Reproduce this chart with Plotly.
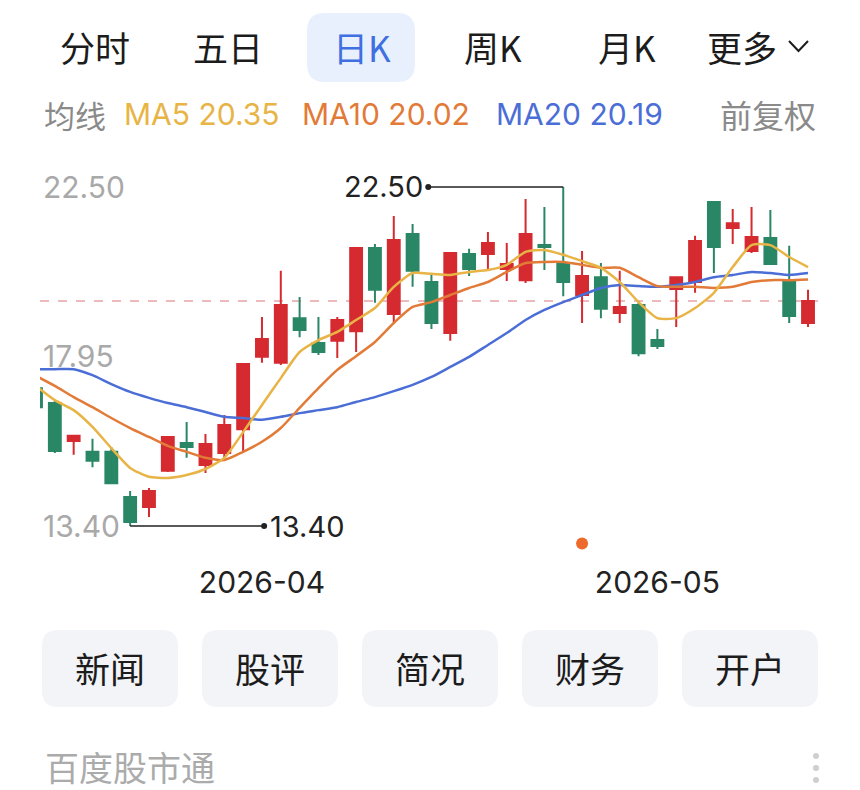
import plotly.graph_objects as go
import numpy as np

W, H = 860, 790

# ---------------- data ----------------
dates = ["2026-03-16", "2026-03-17", "2026-03-18", "2026-03-19", "2026-03-20",
         "2026-03-23", "2026-03-24", "2026-03-25", "2026-03-26", "2026-03-27",
         "2026-03-30", "2026-03-31", "2026-04-01", "2026-04-02", "2026-04-03",
         "2026-04-07", "2026-04-08", "2026-04-09", "2026-04-10", "2026-04-13",
         "2026-04-14", "2026-04-15", "2026-04-16", "2026-04-17", "2026-04-20",
         "2026-04-21", "2026-04-22", "2026-04-23", "2026-04-24", "2026-04-27",
         "2026-04-28", "2026-04-29", "2026-04-30", "2026-05-06", "2026-05-07",
         "2026-05-08", "2026-05-11", "2026-05-12", "2026-05-13", "2026-05-14",
         "2026-05-15", "2026-05-18"]
opens = [17.10, 16.70, 15.68, 15.39, 15.39, 14.18, 13.91, 14.88, 15.63, 15.04,
         15.36, 16.00, 17.94, 17.78, 18.98, 18.31, 18.37, 18.63, 20.86, 19.09,
         21.24, 19.95, 18.58, 20.70, 20.70, 20.30, 20.00, 20.94, 20.46, 19.60,
         20.08, 19.12, 19.33, 18.39, 19.76, 19.95, 22.10, 21.40, 20.78, 21.13,
         19.98, 18.85]
highs = [17.15, 16.76, 15.82, 15.74, 15.52, 14.34, 14.42, 15.80, 16.19, 15.87,
         16.38, 17.75, 19.01, 20.25, 19.55, 19.01, 19.01, 20.86, 20.97, 21.72,
         21.51, 20.17, 20.73, 20.84, 21.29, 21.00, 22.18, 21.96, 22.50, 20.78,
         20.46, 20.25, 19.44, 18.69, 20.08, 21.19, 22.10, 21.91, 21.96, 21.88,
         20.92, 19.74]
lows = [16.55, 15.36, 15.31, 14.98, 14.53, 13.40, 13.64, 14.85, 15.23, 14.82,
        15.15, 15.39, 17.78, 17.72, 18.47, 17.99, 17.91, 18.07, 19.39, 18.85,
        19.82, 18.69, 18.37, 20.11, 20.25, 19.98, 19.92, 20.27, 19.57, 18.85,
        18.98, 18.85, 17.96, 18.15, 18.74, 19.66, 20.19, 20.97, 20.73, 20.43,
        18.85, 18.74]
closes = [16.59, 15.41, 15.82, 15.15, 14.55, 13.51, 14.34, 15.79, 15.52, 15.60,
          16.11, 17.75, 18.42, 19.33, 18.66, 18.07, 18.93, 20.86, 19.74, 21.08,
          20.25, 18.85, 20.73, 20.30, 21.00, 20.43, 21.24, 20.89, 19.95, 20.11,
          19.23, 19.28, 18.04, 18.23, 20.08, 21.05, 20.89, 21.53, 21.16, 20.43,
          19.04, 19.44]
ma5 = [17.16, 16.78, 16.51, 16.06, 15.49, 14.96, 14.72, 14.69, 14.77, 14.93,
       15.23, 15.92, 16.65, 17.37, 18.07, 18.39, 18.61, 18.93, 19.25, 19.82,
       20.19, 20.17, 20.14, 20.22, 20.27, 20.41, 20.76, 20.81, 20.68, 20.51,
       20.33, 19.95, 19.41, 18.98, 18.98, 19.25, 19.66, 20.35, 20.94, 20.94,
       20.62, 20.35]
ma10 = [17.43, 17.16, 16.86, 16.59, 16.30, 16.03, 15.79, 15.55, 15.39, 15.23,
        15.17, 15.39, 15.66, 16.03, 16.57, 17.10, 17.59, 17.96, 18.34, 18.85,
        19.28, 19.41, 19.60, 19.79, 19.95, 20.22, 20.46, 20.49, 20.49, 20.41,
        20.33, 20.33, 20.08, 19.84, 19.82, 19.82, 19.79, 19.82, 19.95, 20.00,
        20.00, 20.02]
ma20 = [17.61, 17.61, 17.61, 17.45, 17.21, 17.00, 16.84, 16.70, 16.59, 16.46,
        16.33, 16.30, 16.25, 16.33, 16.43, 16.51, 16.59, 16.73, 16.86, 17.02,
        17.19, 17.40, 17.67, 17.94, 18.26, 18.58, 18.93, 19.20, 19.41, 19.60,
        19.79, 19.87, 19.84, 19.82, 19.87, 19.95, 20.08, 20.14, 20.22, 20.19,
        20.14, 20.19]
event_dates = ["2026-04-27"]
month_ticks = ["2026-04-01", "2026-05-06"]
month_labels = ["2026-04", "2026-05"]
tabs = ["分时", "五日", "日K", "周K", "月K", "更多"]
buttons = ["新闻", "股评", "简况", "财务", "开户"]
footer = "百度股市通"

# ---------------- style ----------------
RED = "#d52a2f"
GREEN = "#2a8766"
C5 = "#e8b446"
C10 = "#e27a38"
C20 = "#4b6ed6"
FONT = "Inter, 'Noto Sans CJK SC', sans-serif"
CJK = "'Noto Sans CJK SC', Inter, sans-serif"


def px(x):
    return x / W


def py(y):
    return 1 - y / H


def rrect(x0, y0, x1, y1, r):
    def p(x, y):
        return f"{px(x):.5f},{py(y):.5f}"
    return (f"M {p(x0 + r, y0)} L {p(x1 - r, y0)} Q {p(x1, y0)} {p(x1, y0 + r)} "
            f"L {p(x1, y1 - r)} Q {p(x1, y1)} {p(x1 - r, y1)} L {p(x0 + r, y1)} "
            f"Q {p(x0, y1)} {p(x0, y1 - r)} L {p(x0, y0 + r)} Q {p(x0, y0)} {p(x0 + r, y0)} Z")


# plot area in pixels
PL, PR, PT, PB = 40, 818, 145, 548
slot = 18.83
lo, hi = min(lows), max(highs)
scale = (526 - 187) / (hi - lo)
ytop = hi + (187 - PT) / scale
ybot = lo - (PB - 526) / scale
x0_idx = (PL - 36) / slot
x1_idx = (PR - 36) / slot

fig = go.Figure()
fig.add_trace(go.Candlestick(
    x=dates, open=opens, high=highs, low=lows, close=closes,
    increasing=dict(line=dict(color=RED, width=2), fillcolor=RED),
    decreasing=dict(line=dict(color=GREEN, width=2), fillcolor=GREEN),
    whiskerwidth=0, showlegend=False, hoverinfo="skip"))
for ma, col in [(ma20, C20), (ma10, C10), (ma5, C5)]:
    fig.add_trace(go.Scatter(x=dates, y=ma, mode="lines",
                             line=dict(color=col, width=2.5, shape="spline", smoothing=0.6),
                             showlegend=False, hoverinfo="skip"))
fig.add_trace(go.Scatter(x=event_dates, y=[ybot + 0.12] * len(event_dates), mode="markers",
                         marker=dict(color="#ee6a2c", size=12), cliponaxis=False,
                         showlegend=False, hoverinfo="skip"))

shapes = []
annotations = []

# last price dashed line
shapes.append(dict(type="line", xref="paper", yref="y", x0=px(PL), x1=px(PR),
                   y0=closes[-1], y1=closes[-1], layer="below",
                   line=dict(color="#e6a4a6", width=1.6, dash="dash")))

# max / min markers
imax = int(np.argmax(highs))
imin = int(np.argmin(lows))
mx_end = imax - 135 / slot
mn_end = imin + 134 / slot
shapes.append(dict(type="line", xref="x", yref="y", x0=imax, x1=mx_end, y0=hi, y1=hi,
                   line=dict(color="#222", width=1.6)))
shapes.append(dict(type="line", xref="x", yref="y", x0=imin, x1=mn_end, y0=lo, y1=lo,
                   line=dict(color="#222", width=1.6)))
fig.add_trace(go.Scatter(x=[mx_end, mn_end], y=[hi, lo], mode="markers", xaxis="x2", yaxis="y",
                         marker=dict(color="#222", size=6), showlegend=False, hoverinfo="skip",
                         cliponaxis=False))
annotations.append(dict(x=mx_end - 0.15, y=hi, xref="x", yref="y", text=f"{hi:.2f}",
                        showarrow=False, xanchor="right", yanchor="middle",
                        font=dict(family=FONT, size=29, color="#222")))
annotations.append(dict(x=mn_end + 0.2, y=lo, xref="x", yref="y", text=f"{lo:.2f}",
                        showarrow=False, xanchor="left", yanchor="middle",
                        font=dict(family=FONT, size=29, color="#222")))

# tabs
shapes.append(dict(type="path", xref="paper", yref="paper", path=rrect(307, 13, 415, 82, 18),
                   fillcolor="#e8f0fd", line=dict(width=0), layer="below"))
tab_x = [95, 228, 362, 493, 627, 742]
for t, x in zip(tabs, tab_x):
    annotations.append(dict(x=px(x), y=py(47), xref="paper", yref="paper", text=t,
                            showarrow=False, xanchor="center", yanchor="middle",
                            font=dict(family=CJK, size=35,
                                      color="#3f6fe0" if t == "日K" else "#1c1c1c")))
shapes.append(dict(type="path", xref="paper", yref="paper",
                   path=f"M {px(789)},{py(41)} L {px(798.5)},{py(51)} L {px(808)},{py(41)}",
                   line=dict(color="#1c1c1c", width=2)))

# MA legend row
annotations.append(dict(x=px(42), y=py(114), xref="paper", yref="paper", text="均线",
                        showarrow=False, xanchor="left", yanchor="middle",
                        font=dict(family=CJK, size=31, color="#8a8a8a")))
for txt, x, col in [(f"MA5 {ma5[-1]:.2f}", 122, C5), (f"MA10 {ma10[-1]:.2f}", 300, C10),
                    (f"MA20 {ma20[-1]:.2f}", 494, C20)]:
    annotations.append(dict(x=px(x), y=py(114), xref="paper", yref="paper", text=txt,
                            showarrow=False, xanchor="left", yanchor="middle",
                            font=dict(family=FONT, size=30, color=col)))
annotations.append(dict(x=px(818), y=py(114), xref="paper", yref="paper", text="前复权",
                        showarrow=False, xanchor="right", yanchor="middle",
                        font=dict(family=CJK, size=32, color="#8a8a8a")))

# buttons
for i, b in enumerate(buttons):
    bx0 = 42 + i * 160
    shapes.append(dict(type="path", xref="paper", yref="paper",
                       path=rrect(bx0, 630, bx0 + 136, 707, 16),
                       fillcolor="#f3f4f8", line=dict(width=0), layer="below"))
    annotations.append(dict(x=px(bx0 + 68), y=py(667), xref="paper", yref="paper", text=b,
                            showarrow=False, xanchor="center", yanchor="middle",
                            font=dict(family=CJK, size=35, color="#1c1c1c")))

annotations.append(dict(x=px(43), y=py(766), xref="paper", yref="paper", text=footer,
                        showarrow=False, xanchor="left", yanchor="middle",
                        font=dict(family=CJK, size=34, color="#ababab")))
for yy in [756, 768, 780]:
    shapes.append(dict(type="circle", xref="paper", yref="paper",
                       x0=px(813), x1=px(819), y0=py(yy - 3), y1=py(yy + 3),
                       fillcolor="#cfcfcf", line=dict(width=0)))

fig.update_layout(
    width=W, height=H, autosize=False,
    margin=dict(l=0, r=0, t=0, b=0),
    paper_bgcolor="white", plot_bgcolor="white",
    showlegend=False, boxgap=0.1,
    shapes=shapes, annotations=annotations,
    xaxis=dict(type="category", domain=[px(PL), px(PR)], range=[x0_idx, x1_idx],
               rangeslider=dict(visible=False), showgrid=False, zeroline=False,
               showline=False, tickmode="array", tickvals=month_ticks, ticktext=month_labels,
               ticks="", tickfont=dict(family=FONT, size=30, color="#222"),
               ticklabelstandoff=14, fixedrange=True),
    xaxis2=dict(overlaying="x", range=[x0_idx, x1_idx], visible=False,
                domain=[px(PL), px(PR)], fixedrange=True),
    yaxis=dict(domain=[py(PB), py(PT)], range=[ybot, ytop], showgrid=False,
               zeroline=False, showline=False, tickmode="array",
               tickvals=[lo, (lo + hi) / 2, hi],
               ticktext=[f"{v:.2f}" for v in [lo, (lo + hi) / 2, hi]],
               ticklabelposition="inside", ticks="",
               tickfont=dict(family=FONT, size=30, color="#a9a9a9"), fixedrange=True),
)

fig.write_html("out.html", config={"displayModeBar": False},
               post_script="document.body.style.margin='0';")
